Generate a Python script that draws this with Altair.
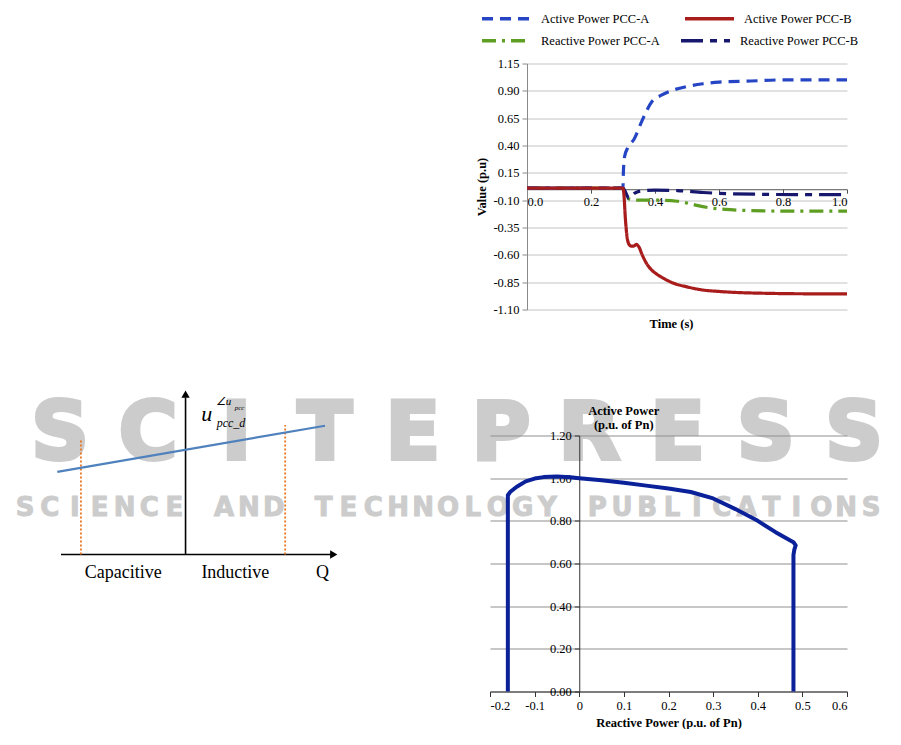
import altair as alt
import pandas as pd

# ------------------------------------------------------------------ data: top chart (time response)
SERIES = ["Active Power PCC-A", "Active Power PCC-B",
          "Reactive Power PCC-A", "Reactive Power PCC-B"]
COLORS = ["#2545C4", "#A81C1C", "#5E9E22", "#17176E"]
DASHES = [[11, 7], [1, 0], [14, 6, 3, 6], [22, 7, 7, 7]]

t_pa = [0.0, 0.1, 0.2, 0.30, 0.301, 0.305, 0.315, 0.335, 0.36, 0.39, 0.42, 0.45,
        0.50, 0.55, 0.60, 0.70, 0.80, 0.90, 1.0]
v_pa = [0.01, 0.01, 0.01, 0.01, 0.14, 0.30, 0.38, 0.46, 0.63, 0.80, 0.86, 0.90,
        0.94, 0.965, 0.98, 0.99, 1.0, 1.0, 1.0]

t_pb = [0.0, 0.1, 0.2, 0.30, 0.303, 0.307, 0.312, 0.318, 0.325, 0.333, 0.342, 0.35,
        0.36, 0.376, 0.39, 0.407, 0.43, 0.45, 0.50, 0.55, 0.60, 0.66, 0.75, 0.85, 1.0]
v_pb = [0.01, 0.01, 0.01, 0.01, -0.05, -0.25, -0.42, -0.50, -0.52, -0.52, -0.505, -0.53,
        -0.60, -0.69, -0.74, -0.78, -0.82, -0.85, -0.893, -0.922, -0.935, -0.945, -0.952,
        -0.956, -0.957]

t_qa = [0.0, 0.1, 0.2, 0.30, 0.305, 0.32, 0.35, 0.40, 0.47, 0.52, 0.56, 0.62, 0.70,
        0.80, 1.0]
v_qa = [0.01, 0.01, 0.01, 0.01, -0.04, -0.09, -0.10, -0.10, -0.11, -0.14, -0.165,
        -0.185, -0.195, -0.20, -0.20]

t_qb = [0.0, 0.1, 0.2, 0.30, 0.31, 0.318, 0.325, 0.335, 0.35, 0.40, 0.47, 0.55, 0.62,
        0.75, 0.85, 1.0]
v_qb = [0.01, 0.01, 0.01, 0.01, -0.04, -0.085, -0.07, -0.04, -0.02, -0.008, -0.012,
        -0.03, -0.04, -0.047, -0.05, -0.05]

TOP_Y_TICKS = [-1.10, -0.85, -0.60, -0.35, -0.10, 0.15, 0.40, 0.65, 0.90, 1.15]
TOP_X_TICKS = [0.0, 0.2, 0.4, 0.6, 0.8, 1.0]

# ------------------------------------------------------------------ data: bottom chart (P-Q capability)
pq_q = [-0.16, -0.16, -0.155, -0.14, -0.12, -0.10, -0.08, -0.05, -0.02, 0.0, 0.05, 0.10,
        0.15, 0.20, 0.25, 0.30, 0.35, 0.40, 0.44, 0.48, 0.485, 0.482, 0.48, 0.48]
pq_p = [0.0, 0.92, 0.935, 0.96, 0.985, 0.998, 1.005, 1.008, 1.004, 1.0, 0.99, 0.978,
        0.965, 0.952, 0.935, 0.905, 0.855, 0.80, 0.747, 0.70, 0.685, 0.665, 0.64, 0.0]
PQ_X_TICKS = [-0.2, -0.1, 0.0, 0.1, 0.2, 0.3, 0.4, 0.5, 0.6]
PQ_Y_TICKS = [0.0, 0.2, 0.4, 0.6, 0.8, 1.0, 1.2]

# ------------------------------------------------------------------ data: schematic (left)
axis_seg = {"q": [-1.0, 0.0], "u": [0.0, 0.0], "q2": [1.17, 0.0], "u2": [0.0, 0.97]}
arrow_pts = {"q": [1.19, 0.0], "u": [0.0, 0.99], "shape": ["triangle-right", "triangle-up"]}
droop_line = {"q": [-1.03], "u": [0.51], "q2": [1.12], "u2": [0.795]}
limit_lines = {"q": [-0.84, 0.80], "u": [0.0, 0.0], "u2": [0.71, 0.80]}
region_labels = {"q": [-0.50, 0.40, 1.10], "u": [-0.115, -0.115, -0.115],
                 "text": ["Capacitive", "Inductive", "Q"]}
ulab_text = ["u", "\u2220u", "pcc", "pcc_d"]
ulab_q = [0.170, 0.242, 0.395, 0.250]
ulab_u = [0.827, 0.920, 0.895, 0.785]
ulab_size = [22, 11, 7, 12]
ulab_align = ["center", "left", "left", "left"]

WM_LINE1 = "SCITEPRESS"
WM_LINE2 = "SCIENCE AND TECHNOLOGY PUBLICATIONS"

FONT = "Liberation Serif"

# ------------------------------------------------------------------ layout constants (pixels)
LEFT_W, LEFT_H = 470, 628
TOP_W, TOP_H = 357, 246
TOP_X0 = 37
BOT_W, BOT_H = 357, 256

# ------------------------------------------------------------------ top chart
df_top = pd.concat([
    pd.DataFrame({"series": name, "t": ts, "v": vs, "i": range(len(ts))})
    for name, ts, vs in zip(SERIES, [t_pa, t_pb, t_qa, t_qb], [v_pa, v_pb, v_qa, v_qb])
])

top_ymin, top_ymax = TOP_Y_TICKS[0], TOP_Y_TICKS[-1]
zero_offset = -TOP_H * (0 - top_ymin) / (top_ymax - top_ymin)

x_top = alt.X("t:Q",
              scale=alt.Scale(domain=[0, 1], range=[TOP_X0, TOP_W], nice=False, zero=False),
              axis=alt.Axis(values=TOP_X_TICKS, format=".1f", offset=zero_offset,
                            title="Time (s)", titleX=181, titleY=128,
                            grid=False, domainColor="#555", tickColor="#555",
                            tickSize=4, labelPadding=2))
y_top = alt.Y("v:Q",
              scale=alt.Scale(domain=[top_ymin, top_ymax], nice=False, zero=False),
              axis=alt.Axis(values=TOP_Y_TICKS, format=".2f",
                            labelExpr="replace(datum.label, '\u2212', '-')",
                            offset=-TOP_X0, title="Value (p.u)", titlePadding=4,
                            grid=True, gridColor="#c4c4c4", domainColor="#8a8a8a",
                            tickColor="#8a8a8a", tickSize=5, labelPadding=3))


def legend_row(y, col_pad):
    return alt.Legend(
        title=None, orient="none", legendX=-10, legendY=y, direction="horizontal",
        symbolType="stroke", symbolSize=2400, symbolStrokeWidth=3.5,
        labelFont=FONT, labelFontSize=12.5, labelColor="#000", labelOffset=8,
        columnPadding=col_pad, labelLimit=300,
    )


def series_layer(names, lg):
    idx = [SERIES.index(n) for n in names]
    dom = [SERIES[k] for k in idx]
    return alt.Chart(df_top[df_top["series"].isin(names)]).mark_line(
        strokeWidth=3.2, interpolate="monotone").encode(
        x=x_top, y=y_top,
        color=alt.Color("series:N",
                        scale=alt.Scale(domain=dom, range=[COLORS[k] for k in idx]),
                        legend=lg),
        strokeDash=alt.StrokeDash("series:N",
                                  scale=alt.Scale(domain=dom, range=[DASHES[k] for k in idx]),
                                  legend=lg),
        order="i:Q",
    )


row1 = series_layer(SERIES[:2], legend_row(-71.5, 28))
row2 = series_layer(SERIES[2:], legend_row(-49.5, 14))
top = alt.layer(row2, row1).resolve_scale(
    color="independent", strokeDash="independent").resolve_legend(
    color="independent", strokeDash="independent").properties(width=TOP_W, height=TOP_H)

# ------------------------------------------------------------------ bottom chart
df_pq = pd.DataFrame({"q": pq_q, "p": pq_p, "k": range(len(pq_q))})
q_min, q_max = PQ_X_TICKS[0], PQ_X_TICKS[-1]
yaxis_offset = -BOT_W * (0 - q_min) / (q_max - q_min)

bottom = alt.Chart(df_pq).mark_line(strokeWidth=4, color="#0B2199",
                                    strokeJoin="round").encode(
    x=alt.X("q:Q", scale=alt.Scale(domain=[q_min, q_max], nice=False, zero=False),
            axis=alt.Axis(values=PQ_X_TICKS, format="~g",
                          labelExpr="replace(datum.label, '\u2212', '-')",
                          title="Reactive Power (p.u. of Pn)", titlePadding=4,
                          grid=False, domainColor="#333", tickColor="#333",
                          tickSize=5, labelPadding=3)),
    y=alt.Y("p:Q", scale=alt.Scale(domain=[PQ_Y_TICKS[0], PQ_Y_TICKS[-1]], nice=False),
            axis=alt.Axis(values=PQ_Y_TICKS, format=".2f", offset=yaxis_offset,
                          title=["Active Power", "(p.u. of Pn)"], titleAngle=0,
                          titleAlign="center", titleBaseline="alphabetic",
                          titleX=44, titleY=-21, titleLineHeight=14,
                          grid=True, gridColor="#8f8f8f", domainColor="#333",
                          tickColor="#333", tickSize=5, labelPadding=3)),
    order="k:Q",
).properties(width=BOT_W, height=BOT_H)

# ------------------------------------------------------------------ left schematic + watermark
sx = alt.Scale(domain=[-1, 1.2], range=[53, 327])
sy = alt.Scale(domain=[0, 1], range=[491, 329])


def XQ(f="q"):
    return alt.X(f"{f}:Q", scale=sx, axis=None)


def YU(f="u"):
    return alt.Y(f"{f}:Q", scale=sy, axis=None)


axes_layer = alt.Chart(pd.DataFrame(axis_seg)).mark_rule(color="#000", strokeWidth=1.6).encode(
    x=XQ(), y=YU(), x2="q2:Q", y2="u2:Q")
arrow_layer = alt.Chart(pd.DataFrame(arrow_pts)).mark_point(
    filled=True, color="#000", size=70, opacity=1).encode(
    x=XQ(), y=YU(), shape=alt.Shape("shape:N", scale=None))
droop_layer = alt.Chart(pd.DataFrame(droop_line)).mark_rule(
    color="#4F81BD", strokeWidth=2.2).encode(x=XQ(), y=YU(), x2="q2:Q", y2="u2:Q")
limit_layer = alt.Chart(pd.DataFrame(limit_lines)).mark_rule(
    color="#E8761E", strokeWidth=1.8, strokeDash=[2, 2]).encode(
    x=XQ(), y=YU(), y2="u2:Q")
label_layer = alt.Chart(pd.DataFrame(region_labels)).mark_text(
    font=FONT, fontSize=18, color="#000", baseline="middle").encode(
    x=XQ(), y=YU(), text="text:N")

ulab_layers = [
    alt.Chart(pd.DataFrame({"q": [ulab_q[k]], "u": [ulab_u[k]], "text": [ulab_text[k]]}))
    .mark_text(font=FONT, fontStyle="italic", color="#000", baseline="alphabetic",
               fontSize=ulab_size[k], align=ulab_align[k])
    .encode(x=XQ(), y=YU(), text="text:N")
    for k in range(len(ulab_text))
]

schematic = alt.layer(axes_layer, limit_layer, droop_layer, arrow_layer, label_layer,
                      *ulab_layers)

wm1 = pd.DataFrame({"ch": list(WM_LINE1), "idx": range(len(WM_LINE1)), "row": 1})
wm2 = pd.DataFrame({"ch": list(WM_LINE2), "idx": range(len(WM_LINE2)), "row": 2})
wm_y = alt.Scale(domain=[1, 2], range=[395, 452])
wm1_layer = alt.Chart(wm1).mark_text(
    font="DejaVu Sans", fontWeight="bold", fontSize=80, color="#c4c4c4",
    opacity=0.85, baseline="alphabetic", stroke="#c4c4c4", strokeWidth=4).encode(
    x=alt.X("idx:Q", scale=alt.Scale(domain=[0, len(WM_LINE1) - 1], range=[52, 846]),
            axis=None),
    y=alt.Y("row:Q", scale=wm_y, axis=None),
    text="ch:N")
wm2_layer = alt.Chart(wm2).mark_text(
    font="DejaVu Sans", fontWeight="bold", fontSize=26, color="#c4c4c4",
    opacity=0.85, baseline="alphabetic", stroke="#c4c4c4", strokeWidth=1).encode(
    x=alt.X("idx:Q", scale=alt.Scale(domain=[0, len(WM_LINE2) - 1], range=[17, 863]),
            axis=None),
    y=alt.Y("row:Q", scale=wm_y, axis=None),
    text="ch:N")

left = alt.layer(wm1_layer, wm2_layer, schematic).resolve_scale(
    x="independent", y="independent").properties(width=LEFT_W, height=LEFT_H)

right = alt.vconcat(top, bottom, spacing=126, bounds="flush").resolve_scale(
    color="independent", strokeDash="independent").resolve_legend(
    color="independent", strokeDash="independent")

chart = alt.hconcat(left, right, spacing=12, bounds="flush").resolve_scale(
    color="independent", strokeDash="independent").resolve_legend(
    color="independent", strokeDash="independent").properties(
    padding={"left": 0, "top": -16.5, "right": 0, "bottom": 0}
).configure(background="#ffffff").configure_view(
    stroke="transparent", strokeWidth=0
).configure_axis(
    labelFont=FONT, labelFontSize=12.5, labelColor="#000",
    titleFont=FONT, titleFontSize=12.5, titleFontWeight="bold", titleColor="#000",
)

chart.save("out.html", embed_options={"renderer": "svg", "actions": False})
